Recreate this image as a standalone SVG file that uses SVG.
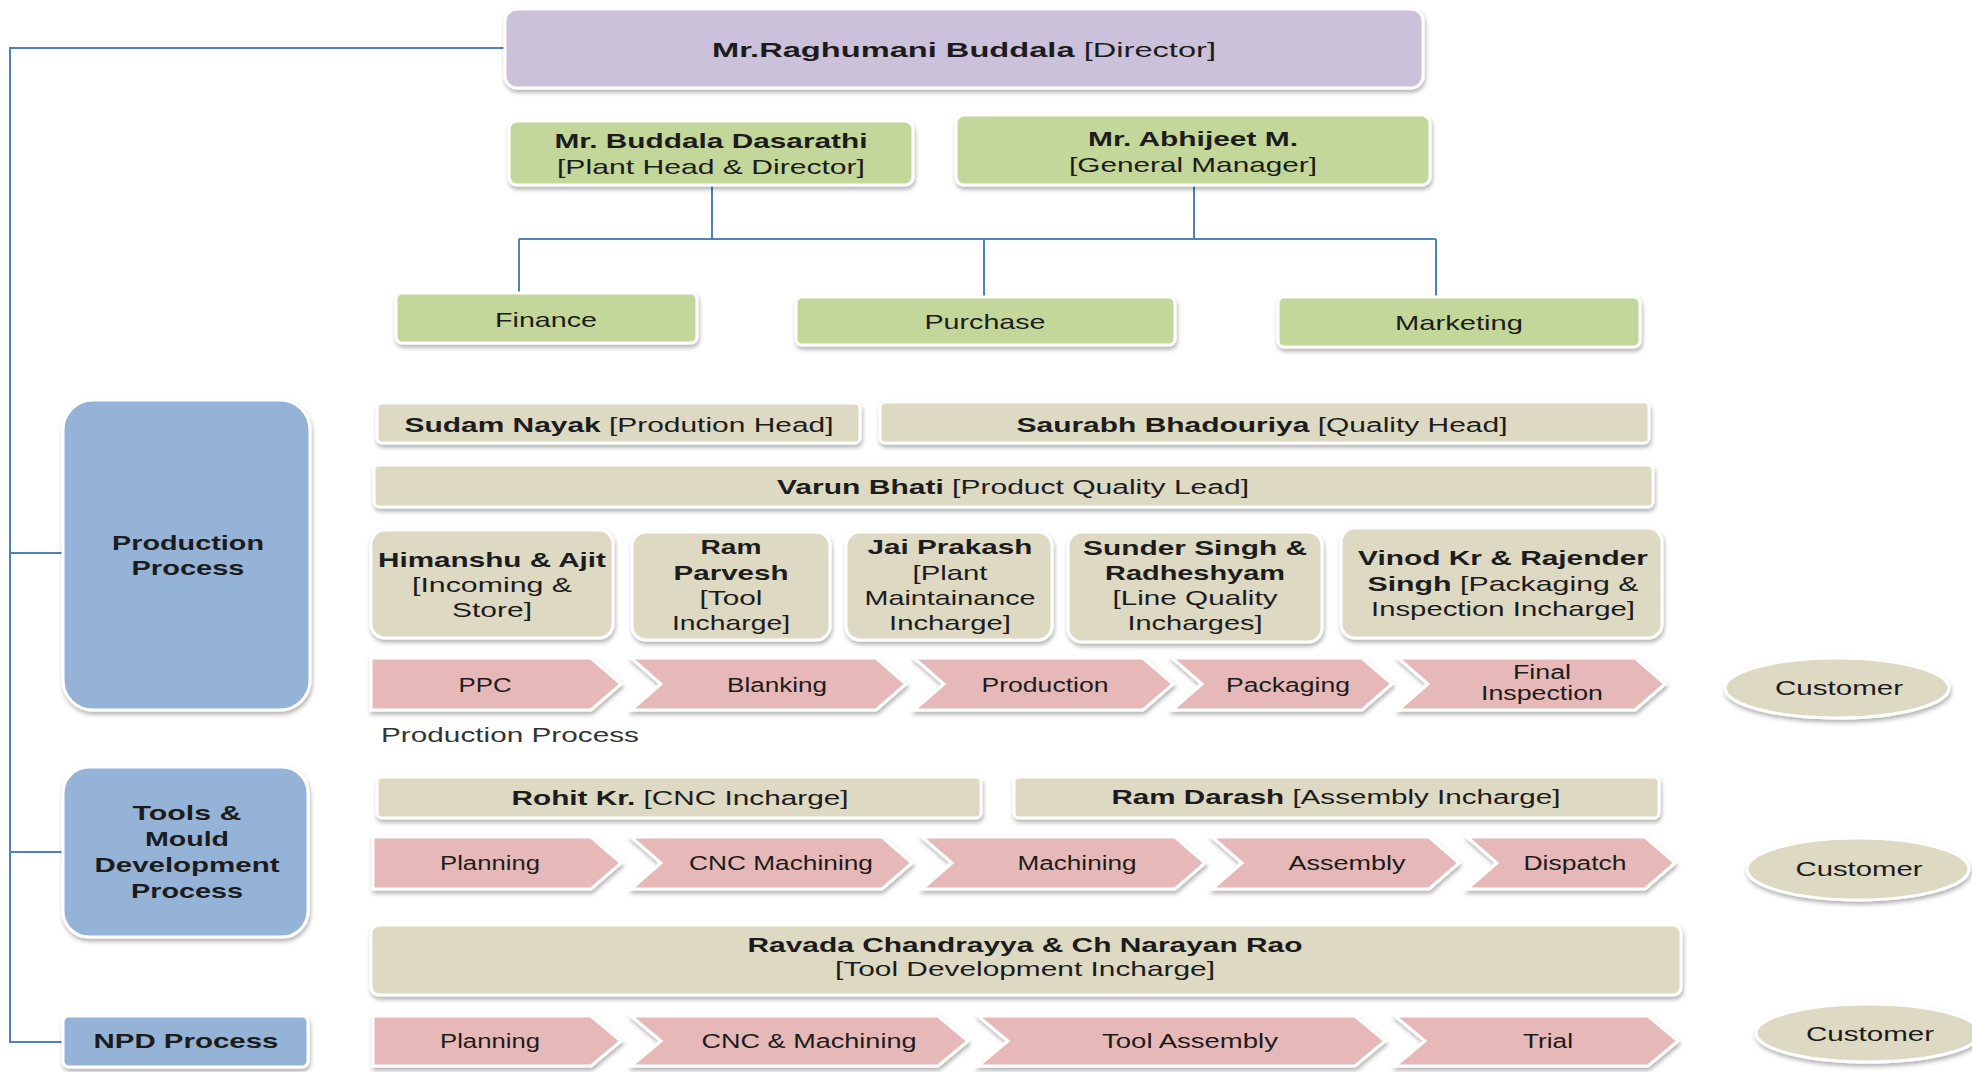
<svg xmlns="http://www.w3.org/2000/svg" width="1972" height="1072" viewBox="0 0 1972 1072">
<defs>
<filter id="sh" x="-5%" y="-20%" width="110%" height="150%">
<feDropShadow dx="1" dy="3" stdDeviation="2" flood-color="#000" flood-opacity="0.3"/>
</filter>
<style>
.t{font-family:"Liberation Sans",Arial,sans-serif;fill:#1c1c1c;text-anchor:middle;font-size:21px}
.s{font-size:20px}
.b{font-weight:bold}
.n{font-weight:normal}
.lav{fill:#CCC1DA;stroke:#fff;stroke-width:3;filter:url(#sh)}
.grn{fill:#C4D79B;stroke:#fff;stroke-width:3;filter:url(#sh)}
.tan{fill:#DDD9C3;stroke:#fff;stroke-width:3;filter:url(#sh)}
.blu{fill:#95B3D7;stroke:#fff;stroke-width:3;filter:url(#sh)}
.pnk{fill:#E6B9B8;stroke:#fff;stroke-width:3;filter:url(#sh)}
.ln{fill:none;stroke:#4F81BD;stroke-width:2}
</style>
</defs>
<rect width="1972" height="1072" fill="#fff"/>

<g id="connectors">
<path class="ln" d="M506,48 H10 V1042 H63"/>
<path class="ln" d="M10,553 H63"/>
<path class="ln" d="M10,852 H63"/>
<path class="ln" d="M712,186 V239"/>
<path class="ln" d="M1194,186 V239"/>
<path class="ln" d="M519,239 H1436"/>
<path class="ln" d="M519,239 V293"/>
<path class="ln" d="M984,239 V296"/>
<path class="ln" d="M1436,239 V296"/>
</g>

<g id="director">
<rect class="lav" x="505" y="9" width="918" height="79" rx="12"/>
<text class="t b" x="964" y="57" textLength="504" lengthAdjust="spacingAndGlyphs">Mr.Raghumani Buddala <tspan class="n">[Director]</tspan></text>
</g>
<g id="dasarathi">
<rect class="grn" x="509" y="121" width="404" height="64" rx="8"/>
<text class="t b" x="711" y="148" textLength="313" lengthAdjust="spacingAndGlyphs">Mr. Buddala Dasarathi</text>
<text class="t" x="711" y="174" textLength="308" lengthAdjust="spacingAndGlyphs">[Plant Head &amp; Director]</text>
</g>
<g id="abhijeet">
<rect class="grn" x="956" y="115" width="474" height="70" rx="8"/>
<text class="t b" x="1193" y="146" textLength="210" lengthAdjust="spacingAndGlyphs">Mr. Abhijeet M.</text>
<text class="t" x="1193" y="172" textLength="248" lengthAdjust="spacingAndGlyphs">[General Manager]</text>
</g>
<g id="finance">
<rect class="grn" x="396" y="293" width="301" height="50" rx="6"/>
<text class="t" x="546" y="327" textLength="102" lengthAdjust="spacingAndGlyphs">Finance</text>
</g>
<g id="purchase">
<rect class="grn" x="796" y="297" width="379" height="48" rx="6"/>
<text class="t" x="985" y="329" textLength="121" lengthAdjust="spacingAndGlyphs">Purchase</text>
</g>
<g id="marketing">
<rect class="grn" x="1278" y="297" width="362" height="50" rx="6"/>
<text class="t" x="1459" y="330" textLength="128" lengthAdjust="spacingAndGlyphs">Marketing</text>
</g>

<g id="production-process">
<rect class="blu" x="63" y="400" width="247" height="310" rx="30"/>
<text class="t b" x="188" y="550" textLength="152" lengthAdjust="spacingAndGlyphs">Production</text>
<text class="t b" x="188" y="575" textLength="113" lengthAdjust="spacingAndGlyphs">Process</text>
</g>
<g id="sudam">
<rect class="tan" x="377" y="403" width="483" height="40" rx="5"/>
<text class="t s b" x="619" y="432" textLength="429" lengthAdjust="spacingAndGlyphs">Sudam Nayak <tspan class="n">[Prodution Head]</tspan></text>
</g>
<g id="saurabh">
<rect class="tan" x="880" y="402" width="769" height="41" rx="5"/>
<text class="t s b" x="1262" y="432" textLength="491" lengthAdjust="spacingAndGlyphs">Saurabh Bhadouriya <tspan class="n">[Quality Head]</tspan></text>
</g>
<g id="varun">
<rect class="tan" x="374" y="465" width="1279" height="42" rx="5"/>
<text class="t s b" x="1013" y="494" textLength="472" lengthAdjust="spacingAndGlyphs">Varun Bhati <tspan class="n">[Product Quality Lead]</tspan></text>
</g>
<g id="himanshu">
<rect class="tan" x="371" y="530" width="242" height="108" rx="14"/>
<text class="t b" x="492" y="567" textLength="228" lengthAdjust="spacingAndGlyphs">Himanshu &amp; Ajit</text>
<text class="t" x="492" y="592" textLength="160" lengthAdjust="spacingAndGlyphs">[Incoming &amp;</text>
<text class="t" x="492" y="617" textLength="80" lengthAdjust="spacingAndGlyphs">Store]</text>
</g>
<g id="ram-parvesh">
<rect class="tan" x="632" y="532" width="198" height="108" rx="14"/>
<text class="t b" x="731" y="554" textLength="61" lengthAdjust="spacingAndGlyphs">Ram</text>
<text class="t b" x="731" y="580" textLength="115" lengthAdjust="spacingAndGlyphs">Parvesh</text>
<text class="t" x="731" y="605" textLength="63" lengthAdjust="spacingAndGlyphs">[Tool</text>
<text class="t" x="731" y="630" textLength="118" lengthAdjust="spacingAndGlyphs">Incharge]</text>
</g>
<g id="jai-prakash">
<rect class="tan" x="846" y="532" width="206" height="108" rx="14"/>
<text class="t b" x="950" y="554" textLength="165" lengthAdjust="spacingAndGlyphs">Jai Prakash</text>
<text class="t" x="950" y="580" textLength="75" lengthAdjust="spacingAndGlyphs">[Plant</text>
<text class="t" x="950" y="605" textLength="171" lengthAdjust="spacingAndGlyphs">Maintainance</text>
<text class="t" x="950" y="630" textLength="122" lengthAdjust="spacingAndGlyphs">Incharge]</text>
</g>
<g id="sunder">
<rect class="tan" x="1068" y="532" width="254" height="110" rx="14"/>
<text class="t b" x="1195" y="555" textLength="224" lengthAdjust="spacingAndGlyphs">Sunder Singh &amp;</text>
<text class="t b" x="1195" y="580" textLength="180" lengthAdjust="spacingAndGlyphs">Radheshyam</text>
<text class="t" x="1195" y="605" textLength="165" lengthAdjust="spacingAndGlyphs">[Line Quality</text>
<text class="t" x="1195" y="630" textLength="135" lengthAdjust="spacingAndGlyphs">Incharges]</text>
</g>
<g id="vinod">
<rect class="tan" x="1341" y="528" width="321" height="110" rx="14"/>
<text class="t b" x="1503" y="565" textLength="290" lengthAdjust="spacingAndGlyphs">Vinod Kr &amp; Rajender</text>
<text class="t b" x="1503" y="591" textLength="271" lengthAdjust="spacingAndGlyphs">Singh <tspan class="n">[Packaging &amp;</tspan></text>
<text class="t" x="1503" y="616" textLength="264" lengthAdjust="spacingAndGlyphs">Inspection Incharge]</text>
</g>

<g id="ppc">
<path class="pnk" d="M371,658 H591 L621,684 L591,710 H371 Z"/>
<text class="t s" x="485" y="692" textLength="53" lengthAdjust="spacingAndGlyphs">PPC</text>
</g>
<g id="blanking">
<path class="pnk" d="M631,658 H876 L906,684 L876,710 H631 L661,684 Z"/>
<text class="t s" x="777" y="692" textLength="100" lengthAdjust="spacingAndGlyphs">Blanking</text>
</g>
<g id="production">
<path class="pnk" d="M914,658 H1143 L1173,684 L1143,710 H914 L944,684 Z"/>
<text class="t s" x="1045" y="692" textLength="127" lengthAdjust="spacingAndGlyphs">Production</text>
</g>
<g id="packaging">
<path class="pnk" d="M1172,658 H1362 L1392,684 L1362,710 H1172 L1202,684 Z"/>
<text class="t s" x="1288" y="692" textLength="124" lengthAdjust="spacingAndGlyphs">Packaging</text>
</g>
<g id="final-inspection">
<path class="pnk" d="M1398,658 H1635 L1665,684 L1635,710 H1398 L1428,684 Z"/>
<text class="t s" x="1542" y="679" textLength="58" lengthAdjust="spacingAndGlyphs">Final</text>
<text class="t s" x="1542" y="700" textLength="122" lengthAdjust="spacingAndGlyphs">Inspection</text>
</g>
<g id="customer-1">
<ellipse class="tan" cx="1837" cy="688" rx="112" ry="30"/>
<text class="t" x="1839" y="695" textLength="128" lengthAdjust="spacingAndGlyphs">Customer</text>
</g>
<text class="t s" x="510" y="742" textLength="258" lengthAdjust="spacingAndGlyphs" style="fill:#333">Production Process</text>

<g id="tools-process">
<rect class="blu" x="63" y="767" width="245" height="170" rx="26"/>
<text class="t b" x="187" y="820" textLength="109" lengthAdjust="spacingAndGlyphs">Tools &amp;</text>
<text class="t b" x="187" y="846" textLength="84" lengthAdjust="spacingAndGlyphs">Mould</text>
<text class="t b" x="187" y="872" textLength="185" lengthAdjust="spacingAndGlyphs">Development</text>
<text class="t b" x="187" y="898" textLength="112" lengthAdjust="spacingAndGlyphs">Process</text>
</g>
<g id="rohit">
<rect class="tan" x="377" y="777" width="604" height="41" rx="5"/>
<text class="t s b" x="680" y="805" textLength="337" lengthAdjust="spacingAndGlyphs">Rohit Kr. <tspan class="n">[CNC Incharge]</tspan></text>
</g>
<g id="ram-darash">
<rect class="tan" x="1014" y="777" width="645" height="41" rx="5"/>
<text class="t s b" x="1336" y="804" textLength="449" lengthAdjust="spacingAndGlyphs">Ram Darash <tspan class="n">[Assembly Incharge]</tspan></text>
</g>

<g id="planning-1">
<path class="pnk" d="M373,837 H591 L621,863 L591,889 H373 Z"/>
<text class="t s" x="490" y="870" textLength="100" lengthAdjust="spacingAndGlyphs">Planning</text>
</g>
<g id="cnc-machining">
<path class="pnk" d="M631,837 H882 L912,863 L882,889 H631 L661,863 Z"/>
<text class="t s" x="781" y="870" textLength="184" lengthAdjust="spacingAndGlyphs">CNC Machining</text>
</g>
<g id="machining">
<path class="pnk" d="M922,837 H1175 L1205,863 L1175,889 H922 L952,863 Z"/>
<text class="t s" x="1077" y="870" textLength="119" lengthAdjust="spacingAndGlyphs">Machining</text>
</g>
<g id="assembly">
<path class="pnk" d="M1212,837 H1429 L1459,863 L1429,889 H1212 L1242,863 Z"/>
<text class="t s" x="1347" y="870" textLength="117" lengthAdjust="spacingAndGlyphs">Assembly</text>
</g>
<g id="dispatch">
<path class="pnk" d="M1467,837 H1645 L1675,863 L1645,889 H1467 L1497,863 Z"/>
<text class="t s" x="1575" y="870" textLength="103" lengthAdjust="spacingAndGlyphs">Dispatch</text>
</g>
<g id="customer-2">
<ellipse class="tan" cx="1858" cy="869" rx="111" ry="31"/>
<text class="t" x="1859" y="876" textLength="127" lengthAdjust="spacingAndGlyphs">Customer</text>
</g>

<g id="ravada">
<rect class="tan" x="371" y="925" width="1310" height="70" rx="8"/>
<text class="t b" x="1025" y="952" textLength="555" lengthAdjust="spacingAndGlyphs">Ravada Chandrayya &amp; Ch Narayan Rao</text>
<text class="t" x="1025" y="976" textLength="380" lengthAdjust="spacingAndGlyphs">[Tool Development Incharge]</text>
</g>

<g id="npd-process">
<rect class="blu" x="63" y="1016" width="245" height="51" rx="6"/>
<text class="t b" x="186" y="1048" textLength="185" lengthAdjust="spacingAndGlyphs">NPD Process</text>
</g>
<g id="planning-2">
<path class="pnk" d="M373,1016 H591 L621,1041 L591,1066 H373 Z"/>
<text class="t s" x="490" y="1048" textLength="100" lengthAdjust="spacingAndGlyphs">Planning</text>
</g>
<g id="cnc-and-machining">
<path class="pnk" d="M631,1016 H938 L968,1041 L938,1066 H631 L661,1041 Z"/>
<text class="t s" x="809" y="1048" textLength="215" lengthAdjust="spacingAndGlyphs">CNC &amp; Machining</text>
</g>
<g id="tool-assembly">
<path class="pnk" d="M978,1016 H1355 L1385,1041 L1355,1066 H978 L1008,1041 Z"/>
<text class="t s" x="1190" y="1048" textLength="176" lengthAdjust="spacingAndGlyphs">Tool Assembly</text>
</g>
<g id="trial">
<path class="pnk" d="M1395,1016 H1648 L1678,1041 L1648,1066 H1395 L1425,1041 Z"/>
<text class="t s" x="1548" y="1048" textLength="50" lengthAdjust="spacingAndGlyphs">Trial</text>
</g>
<g id="customer-3">
<ellipse class="tan" cx="1868" cy="1033" rx="112" ry="29"/>
<text class="t" x="1870" y="1041" textLength="128" lengthAdjust="spacingAndGlyphs">Customer</text>
</g>
</svg>
